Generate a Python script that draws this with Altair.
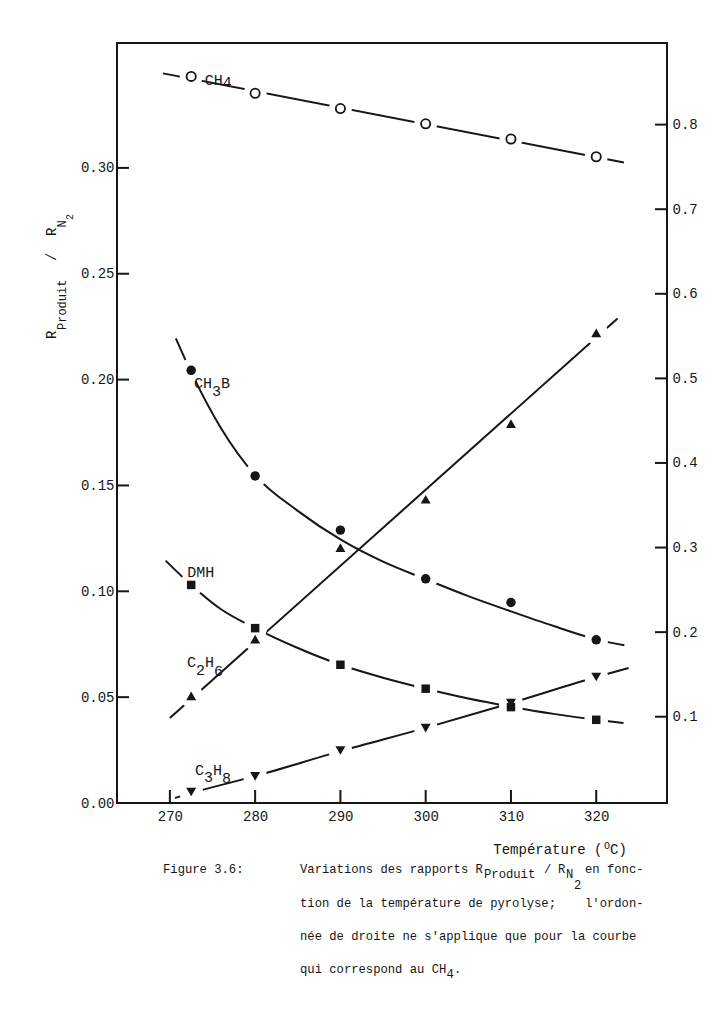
import altair as alt
import pandas as pd

FONT = "Liberation Mono"
INK = "#161616"

# Pyrolysis temperatures (°C)
temps = [272.5, 280, 290, 300, 310, 320]

# Ratios R_produit / R_N2 ; CH4 is read on the right-hand scale
ch4 = [0.857, 0.837, 0.819, 0.801, 0.783, 0.762]
ch3b = [0.2044, 0.1545, 0.1289, 0.1059, 0.0947, 0.0771]
dmh = [0.1030, 0.0826, 0.0653, 0.0540, 0.0453, 0.0393]
c2h6 = [0.0506, 0.0774, 0.1206, 0.1435, 0.1792, 0.2221]
c3h8 = [0.0052, 0.0126, 0.0248, 0.0354, 0.0472, 0.0595]

# Hand-drawn trend curves
ch4_curve_t = [269.2, 323.25]
ch4_curve_v = [0.8606, 0.7552]
c2h6_curve_t = [270.0, 322.5]
c2h6_curve_v = [0.0401, 0.2289]
ch3b_curve_t = [270.7, 272.5, 276.0, 280.0, 285.0, 290.0, 295.0, 300.0, 305.0, 310.0, 315.0, 320.0, 323.3]
ch3b_curve_v = [0.2195, 0.2035, 0.1770, 0.1548, 0.1380, 0.1245, 0.1140, 0.1057, 0.0977, 0.0905, 0.0836, 0.0773, 0.0745]
dmh_curve_t = [269.5, 272.5, 276.0, 280.0, 285.0, 290.0, 295.0, 300.0, 305.0, 310.0, 315.0, 320.0, 323.2]
dmh_curve_v = [0.1145, 0.1030, 0.0915, 0.0826, 0.0732, 0.0653, 0.0592, 0.0540, 0.0494, 0.0455, 0.0421, 0.0393, 0.0378]
c3h8_curve_t = [270.6, 272.5, 280.0, 290.0, 300.0, 310.0, 320.0, 323.8]
c3h8_curve_v = [0.0024, 0.0047, 0.0127, 0.0245, 0.0355, 0.0472, 0.0595, 0.0638]

# Markers the curves run through (the curve is broken around them)
ch4_on_curve = [0, 1, 2, 3, 4, 5]
ch3b_on_curve = [0, 1, 3, 5]
dmh_on_curve = [0, 1, 2, 3, 4, 5]
c2h6_on_curve = [0, 1, 5]
c3h8_on_curve = [0, 1, 2, 3, 4, 5]

# Axes
x_ticks = [270, 280, 290, 300, 310, 320]
left_ticks = [0.00, 0.05, 0.10, 0.15, 0.20, 0.25, 0.30]
right_ticks = [0.1, 0.2, 0.3, 0.4, 0.5, 0.6, 0.7, 0.8]
x_domain = [263.8, 328.3]
left_domain = [0.0, 0.359]
right_domain = [-0.002, 0.8965]

W, H = 550, 760
TICK_LEN = 12


def axis_style(**kw):
    return alt.Axis(ticks=False, tickSize=0, domain=False, grid=False,
                    labelFont=FONT, labelFontSize=14, labelColor=INK,
                    labelFlush=False, labelOverlap=False, **kw)


def X():
    return alt.X("t:Q", title=None,
                 scale=alt.Scale(domain=x_domain, nice=False, zero=False),
                 axis=axis_style(values=x_ticks, format="d", labelPadding=6))


def YL():
    return alt.Y("v:Q", title=None,
                 scale=alt.Scale(domain=left_domain, nice=False, zero=False),
                 axis=axis_style(values=left_ticks, format=".2f", orient="left", labelPadding=3))


def YR():
    return alt.Y("v:Q", title=None,
                 scale=alt.Scale(domain=right_domain, nice=False, zero=False),
                 axis=axis_style(values=right_ticks, format=".1f", orient="right", labelPadding=5))


def series(curve_t, curve_v, values, on_curve, yenc, shape, size, halo, open_marker=False):
    curve = pd.DataFrame({"t": curve_t, "v": curve_v})
    pts = pd.DataFrame({"t": temps, "v": values})
    line = alt.Chart(curve).mark_line(color=INK, strokeWidth=2, interpolate="monotone").encode(x=X(), y=yenc())
    gap = alt.Chart(pts.iloc[on_curve]).mark_point(
        shape="circle", filled=True, fill="white", color="white", strokeWidth=0,
        opacity=1, size=halo).encode(x=X(), y=yenc())
    if open_marker:
        mk = alt.Chart(pts).mark_point(shape=shape, filled=True, color="white", stroke=INK,
                                       strokeWidth=1.8, opacity=1, size=size)
    else:
        mk = alt.Chart(pts).mark_point(shape=shape, filled=True, color=INK, opacity=1, size=size)
    return line, gap, mk.encode(x=X(), y=yenc())


def label(t, v, yenc, parts, dx, dy, size=15):
    """Species name next to a point; parts are (text, vertical shift) pieces."""
    df = pd.DataFrame({"t": [t], "v": [v]})
    out, offset = [], 0.0
    for text, shift in parts:
        out.append(alt.Chart(df).mark_text(
            text=text, font=FONT, fontSize=size, color=INK, align="left",
            baseline="alphabetic", dx=dx + offset, dy=dy + shift).encode(x=X(), y=yenc()))
        offset += len(text) * 0.6 * size
    return out


def free_text(text, x, y, size, angle=0):
    kw = dict(text=text, font=FONT, fontSize=size, color=INK, align="left", baseline="alphabetic")
    if angle:
        kw["angle"] = angle
    return alt.Chart(pd.DataFrame({"k": [0]})).mark_text(**kw).encode(x=alt.value(x), y=alt.value(y))


# ---- left-scale species -------------------------------------------------
left_series = [
    series(ch3b_curve_t, ch3b_curve_v, ch3b, ch3b_on_curve, YL, "circle", 90, 560),
    series(dmh_curve_t, dmh_curve_v, dmh, dmh_on_curve, YL, "square", 72, 560),
    series(c2h6_curve_t, c2h6_curve_v, c2h6, c2h6_on_curve, YL, "triangle-up", 100, 560),
    series(c3h8_curve_t, c3h8_curve_v, c3h8, c3h8_on_curve, YL, "triangle-down", 100, 560),
]
lines = [s[0] for s in left_series]
gaps = [s[1] for s in left_series]
marks = [s[2] for s in left_series]

labels = []
labels += label(temps[0], ch3b[0], YL, [("CH", 0), ("3", 8), ("B", 0)], 2.7, 17.7)
labels += label(temps[0], dmh[0], YL, [("DMH", 0)], -4, -8.3)
labels += label(temps[0], c2h6[0], YL, [("C", 0), ("2", 8), ("H", 0), ("6", 9)], -4.3, -29)
labels += label(temps[0], c3h8[0], YL, [("C", 0), ("3", 7), ("H", 0), ("8", 8)], 3.8, -17.3)

left_tick_marks = alt.Chart(pd.DataFrame({"v": left_ticks})).mark_rule(color=INK, strokeWidth=2).encode(
    y=YL(), x=alt.value(0), x2=alt.value(TICK_LEN))
bottom_tick_marks = alt.Chart(pd.DataFrame({"t": x_ticks})).mark_rule(color=INK, strokeWidth=2).encode(
    x=X(), y=alt.value(H), y2=alt.value(H - TICK_LEN - 1))

# axis titles
y_title = [
    free_text("R", -61, 296, 14, 270),
    free_text("Produit", -51, 287, 12, 270),
    free_text("/", -61, 218, 14, 270),
    free_text("R", -61, 193, 14, 270),
    free_text("N", -51, 184.6, 12, 270),
    free_text("2", -44, 177, 10, 270),
]
x_title = [
    free_text("Température (", 376.3, 811, 14),
    free_text("O", 487, 805.5, 10),
    free_text("C)", 493, 811, 14),
]

# figure caption
CAP = 12.2
caption = [
    free_text("Figure 3.6:", 46, 830, CAP),
    free_text("Variations des rapports R", 183, 830, CAP),
    free_text("Produit", 367, 835, CAP),
    free_text("/", 427, 830, CAP),
    free_text("R", 441, 830, CAP),
    free_text("N", 449, 835, CAP),
    free_text("2", 457, 846, CAP),
    free_text("en fonc-", 468, 830, CAP),
    free_text("tion de la température de pyrolyse;", 183, 864, CAP),
    free_text("l'ordon-", 468, 864, CAP),
    free_text("née de droite ne s'applique que pour la courbe", 183, 897, CAP),
    free_text("qui correspond au CH", 183, 930, CAP),
    free_text("4", 329.5, 935, CAP),
    free_text(".", 337, 930, CAP),
]

left_group = alt.layer(*lines, *gaps, *marks, *labels, left_tick_marks, bottom_tick_marks,
                       *y_title, *x_title, *caption)

# ---- CH4 on the right-hand scale ----------------------------------------
ch4_line, ch4_gap, ch4_mark = series(ch4_curve_t, ch4_curve_v, ch4, ch4_on_curve, YR,
                                     "circle", 85, 520, open_marker=True)
ch4_label = label(temps[0], ch4[0], YR, [("CH", 0), ("4", 2)], 13.5, 9)
right_tick_marks = alt.Chart(pd.DataFrame({"v": right_ticks})).mark_rule(color=INK, strokeWidth=2).encode(
    y=YR(), x=alt.value(W - TICK_LEN), x2=alt.value(W))

# plot frame, drawn last so nothing covers it
frame = alt.Chart(pd.DataFrame({"k": [0]})).mark_rect(filled=False, stroke=INK, strokeWidth=2).encode(
    x=alt.value(0), x2=alt.value(W), y=alt.value(0), y2=alt.value(H))

right_group = alt.layer(ch4_line, ch4_gap, ch4_mark, *ch4_label, right_tick_marks, frame)

chart = (
    alt.layer(left_group, right_group)
    .resolve_scale(y="independent")
    .properties(width=W, height=H,
                autosize=alt.AutoSizeParams(type="none"),
                padding={"left": 117, "top": 43, "right": 38, "bottom": 213},
                background="white")
    .configure_view(stroke="transparent")
)

chart.save("out.html", embed_options={"renderer": "svg", "actions": False})
